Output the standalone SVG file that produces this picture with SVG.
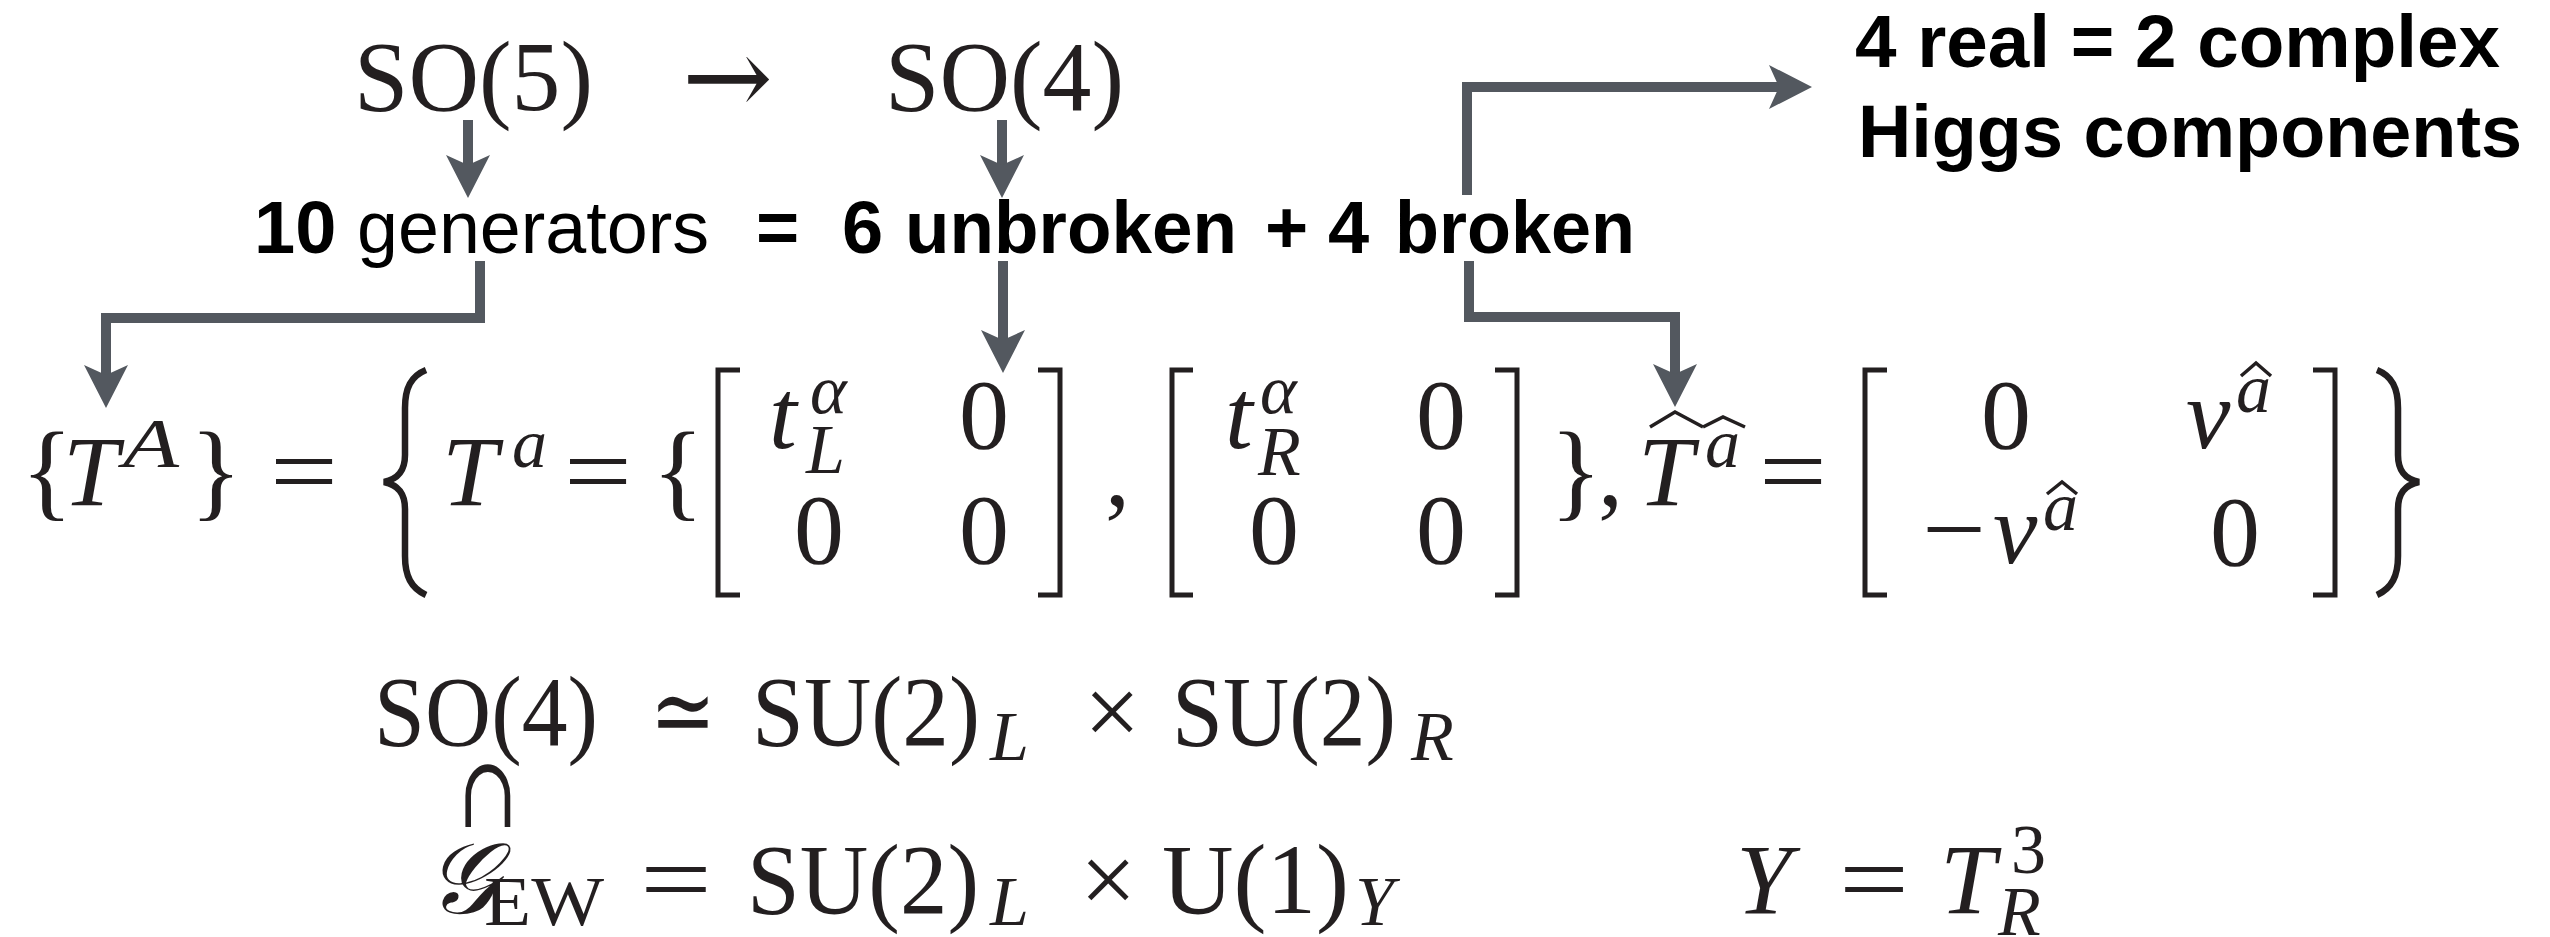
<svg xmlns="http://www.w3.org/2000/svg" width="2550" height="937" viewBox="0 0 2550 937">
<style>
.m{font-family:"Liberation Serif","Times New Roman",serif;font-size:100px;fill:#231f20}
.i{font-style:italic}
.sm{font-size:70px}
.dj{font-family:"DejaVu Serif",serif}
.h{font-family:"Liberation Sans",Arial,sans-serif;font-size:74px;fill:#000}
.bd{font-weight:bold}
.br{fill:none;stroke:#231f20;stroke-width:5}
.bb{fill:none;stroke:#231f20;stroke-width:6.5}
.hat{fill:none;stroke:#231f20;stroke-width:3.5}
.c{fill:none;stroke:#53585f;stroke-width:10;marker-end:url(#ah)}
</style>
<defs>
<marker id="ah" markerUnits="userSpaceOnUse" markerWidth="50" markerHeight="50" viewBox="-12 -25 50 50" refX="0" refY="0" orient="auto" overflow="visible">
<path d="M-10,-22 L33,0 L-10,22 L0,0 Z" fill="#53585f"/>
</marker>
</defs>
<rect width="2550" height="937" fill="#fff"/>

<g id="connectors">
<path class="c" d="M468,120 V165"/>
<path class="c" d="M1002,120 V165"/>
<path class="c" d="M480,261 V318 H106 V375"/>
<path class="c" d="M1003,261 V340"/>
<path class="c" d="M1469,261 V317 H1675 V374"/>
<path class="c" d="M1467,195 V87 H1779"/>
</g>

<g id="so5"><text class="m" x="354" y="110" textLength="239" lengthAdjust="spacingAndGlyphs">SO(5)</text></g>
<g id="maps-to"><text class="m dj" x="682" y="115" style="font-size:110px" textLength="91" lengthAdjust="spacingAndGlyphs">→</text></g>
<g id="so4"><text class="m" x="885" y="110" textLength="239" lengthAdjust="spacingAndGlyphs">SO(4)</text></g>

<g id="generators">
<text class="h bd" x="254" y="253">10</text>
<text class="h" x="357" y="253" textLength="352" lengthAdjust="spacingAndGlyphs">generators</text>
<text class="h bd" x="756" y="253">=</text>
<text class="h bd" x="842" y="253">6</text>
<text class="h bd" x="905" y="253" textLength="332" lengthAdjust="spacingAndGlyphs">unbroken</text>
<text class="h bd" x="1265" y="253">+</text>
<text class="h bd" x="1328" y="253">4</text>
<text class="h bd" x="1395" y="253" textLength="240" lengthAdjust="spacingAndGlyphs">broken</text>
</g>

<g id="higgs">
<text class="h bd" x="1855" y="67" textLength="645" lengthAdjust="spacingAndGlyphs">4 real = 2 complex</text>
<text class="h bd" x="1858" y="157" textLength="664" lengthAdjust="spacingAndGlyphs">Higgs components</text>
</g>

<g id="generator-set">
<text class="m" x="21" y="507" style="font-size:108px">{</text>
<text class="m i" x="63" y="505">T</text>
<text class="m i sm" x="123" y="467" textLength="56" lengthAdjust="spacingAndGlyphs">A</text>
<text class="m" x="190" y="507" style="font-size:108px">}</text>
<text class="m" x="270" y="505" textLength="68" lengthAdjust="spacingAndGlyphs">=</text>
<path class="bb" d="M426,370 C411,376 405,388 405,408 L405,455 C405,471 398,479 384,482 C398,485 405,493 405,509 L405,556 C405,576 411,588 426,595"/>
<text class="m i" x="442" y="505">T</text>
<text class="m i sm" x="512" y="467">a</text>
<text class="m" x="564" y="505" textLength="68" lengthAdjust="spacingAndGlyphs">=</text>
<text class="m" x="652" y="507" style="font-size:108px">{</text>
<path class="br" d="M740,370 H718 V595 H740"/>
<text class="m i" x="769" y="448">t</text>
<text class="m i sm" x="810" y="413">α</text>
<text class="m i sm" x="806" y="473">L</text>
<text class="m" x="959" y="448">0</text>
<text class="m" x="794" y="563">0</text>
<text class="m" x="959" y="563">0</text>
<path class="br" d="M1038,370 H1060 V595 H1038"/>
<text class="m" x="1105" y="505">,</text>
<path class="br" d="M1193,370 H1172 V595 H1193"/>
<text class="m i" x="1225" y="448">t</text>
<text class="m i sm" x="1260" y="413">α</text>
<text class="m i sm" x="1258" y="475">R</text>
<text class="m" x="1416" y="448">0</text>
<text class="m" x="1249" y="563">0</text>
<text class="m" x="1416" y="563">0</text>
<path class="br" d="M1495,370 H1517 V595 H1495"/>
<text class="m" x="1550" y="507" style="font-size:108px">}</text>
<text class="m" x="1598" y="505">,</text>
<text class="m i" x="1638" y="505">T</text>
<text class="m i sm" x="1705" y="467">a</text>
<polyline class="hat" points="1650,427 1675,412 1703,427"/>
<polyline class="hat" points="1703,427 1723,417 1745,427"/>
<text class="m" x="1759" y="505" textLength="68" lengthAdjust="spacingAndGlyphs">=</text>
<path class="br" d="M1887,370 H1865 V595 H1887"/>
<text class="m" x="1981" y="448">0</text>
<text class="m i" x="2186" y="448">v</text>
<text class="m i sm" x="2236" y="412">a</text>
<polyline class="hat" points="2241,376 2256,363 2271,376"/>
<text class="m" x="1922" y="563" textLength="64" lengthAdjust="spacingAndGlyphs">−</text>
<text class="m i" x="1993" y="563">v</text>
<text class="m i sm" x="2043" y="530">a</text>
<polyline class="hat" points="2047,494 2062,482 2077,494"/>
<text class="m" x="2210" y="565">0</text>
<path class="br" d="M2313,370 H2335 V595 H2313"/>
<path class="bb" d="M2377,370 C2392,376 2398,388 2398,408 L2398,455 C2398,471 2405,479 2419,482 C2405,485 2398,493 2398,509 L2398,556 C2398,576 2392,588 2377,595"/>
</g>

<g id="so4-iso">
<text class="m" x="374" y="745" textLength="224" lengthAdjust="spacingAndGlyphs">SO(4)</text>
<text class="m dj" x="650" y="745" textLength="66" lengthAdjust="spacingAndGlyphs">≃</text>
<text class="m" x="752" y="745" textLength="228" lengthAdjust="spacingAndGlyphs">SU(2)</text>
<text class="m i sm" x="990" y="760">L</text>
<text class="m" x="1084" y="745">×</text>
<text class="m" x="1172" y="745" textLength="224" lengthAdjust="spacingAndGlyphs">SU(2)</text>
<text class="m i sm" x="1411" y="760">R</text>
<text class="m dj" x="458" y="827" style="font-size:100px" textLength="60" lengthAdjust="spacingAndGlyphs">∩</text>
</g>

<g id="gew">
<text class="m i" x="426" y="913">𝒢</text>
<text class="m sm" x="484" y="925" textLength="120" lengthAdjust="spacingAndGlyphs">EW</text>
<text class="m" x="640" y="913" textLength="72" lengthAdjust="spacingAndGlyphs">=</text>
<text class="m" x="747" y="913" textLength="232" lengthAdjust="spacingAndGlyphs">SU(2)</text>
<text class="m i sm" x="990" y="925">L</text>
<text class="m" x="1080" y="913">×</text>
<text class="m" x="1162" y="913" textLength="187" lengthAdjust="spacingAndGlyphs">U(1)</text>
<text class="m i sm" x="1355" y="925">Y</text>
</g>

<g id="hypercharge">
<text class="m i" x="1736" y="913">Y</text>
<text class="m" x="1839" y="913" textLength="70" lengthAdjust="spacingAndGlyphs">=</text>
<text class="m i" x="1940" y="913">T</text>
<text class="m sm" x="2011" y="873">3</text>
<text class="m i sm" x="1998" y="935">R</text>
</g>
</svg>
